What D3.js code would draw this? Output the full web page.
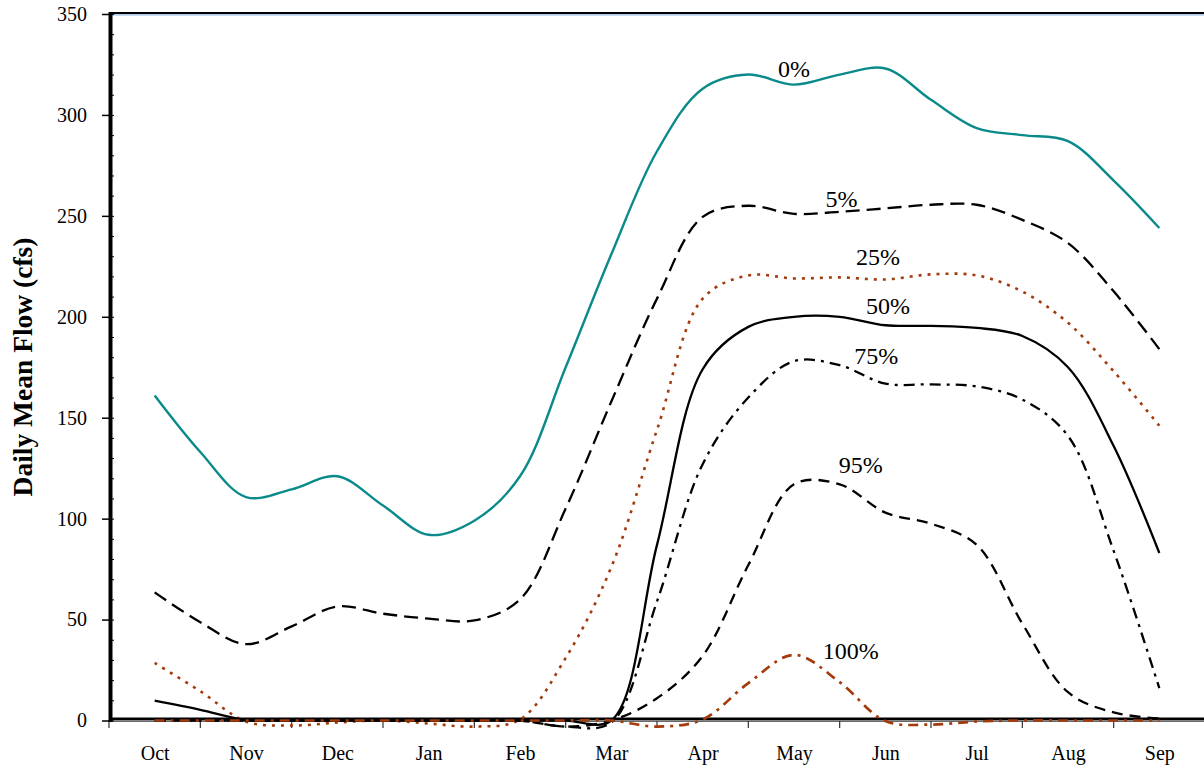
<!DOCTYPE html>
<html>
<head>
<meta charset="utf-8">
<script src="https://cdn.jsdelivr.net/npm/d3@7"></script>
<style>
  html, body { margin: 0; padding: 0; background: #fff; }
  svg { display: block; }
</style>
</head>
<body>
<svg id="chart" width="1204" height="770"></svg>
<script>
// ---- data ----
const months = ["Oct","Nov","Dec","Jan","Feb","Mar","Apr","May","Jun","Jul","Aug","Sep"];
// sample positions, in months from the Oct label (half-month steps)
const monthPos = [0,0.5,1,1.5,2,2.5,3,3.5,4,4.5,5,5.5,6,6.5,7,7.5,8,8.5,9,9.5,10,10.5,11];
const yTicks = [0,50,100,150,200,250,300,350];
const yMinorTicks = [0,10,20,30,40,50,60,70,80,90,100,110,120,130,140,150,160,170,180,190,200,210,220,230,240,250,260,270,280,290,300,310,320,330,340,350];

const flow0   = [161,133,110.7,114.5,121,106.5,92,99,121,175,231,282,313,320,315,320,323,307.5,293.5,290,287,267.5,244];
const flow5   = [63.5,48.7,37.8,46.6,56.5,52.9,50.5,49.6,60,105,158,209,249.5,255,251,252,253.7,255.5,255.5,248,236.5,212.6,184];
const flow25  = [28.5,14.5,-0.5,-2.5,-1,0,-1.5,-3,0.5,31,76,144,209,220.5,219,219.5,218.5,221,220.5,212.5,197,173,146];
const flow50  = [9.8,5.3,0.3,0,0,0,0,0,0,0,0,87,174,195,200,200,195.8,195.5,194.5,190.5,175,136,83];
const flow75  = [0,0,0,0,0,0,0,0,0,-3,-1,59,127,160,178,176,166.9,166.5,165.5,159,141,84,16];
const flow95  = [0,0,0,0,0,0,0,0,0,-3,0,11,32,77,117,117,103,97.5,87,48,14,4,1];
const flow100 = [0,0,0,0,0,0,0,0,0,0,0,-3,0.5,18.5,32.5,19,-0.3,-2,-0.5,0,0,0,0];

const seriesLabels = ["0%","5%","25%","50%","75%","95%","100%"];

// ---- layout ----
const svg = d3.select("#chart");
const plotLeft = 110, plotTop = 14, zeroY = 720.5;

const xBand = d3.scaleBand().domain(months).range([109, 1205]).paddingInner(0).paddingOuter(0);
const x = d3.scaleLinear().domain([-0.5, 11.5]).range([109, 1205]);
const y = d3.scaleLinear().domain([0, 350]).range([zeroY, plotTop]);

// ---- axes ----
// top border
svg.append("line").attr("x1", plotLeft).attr("x2", 1204).attr("y1", 13).attr("y2", 13)
  .attr("stroke", "#000").attr("stroke-width", 2);
svg.append("line").attr("x1", plotLeft + 2).attr("x2", 1204).attr("y1", 14.8).attr("y2", 14.8)
  .attr("stroke", "#92bbe6").attr("stroke-width", 1.3);

// x axis: gray under-line + ticks at band boundaries
svg.append("line").attr("x1", plotLeft).attr("x2", 1204).attr("y1", 721.2).attr("y2", 721.2)
  .attr("stroke", "#6a6a6a").attr("stroke-width", 1.4);
const xTickG = svg.append("g").attr("transform", "translate(0,721)");
xTickG.selectAll("line.tk").data(months).join("line").attr("class", "tk")
  .attr("x1", d => xBand(d)).attr("x2", d => xBand(d))
  .attr("y1", 0).attr("y2", 7).attr("stroke", "#333").attr("stroke-width", 1.2);

const xLabelAxis = d3.axisBottom(x).tickValues(d3.range(months.length))
  .tickFormat(i => months[i]).tickSize(0).tickPadding(26);
const xl = svg.append("g").attr("transform", `translate(0,${zeroY - 0.5})`).call(xLabelAxis);
xl.select(".domain").remove();
xl.selectAll("text").attr("font-family", "'Liberation Serif', 'Times New Roman', serif")
  .attr("font-size", 20).attr("fill", "#000");

// y axis (major ticks outside with labels)
const yAxis = d3.axisLeft(y).tickValues(yTicks).tickSize(8).tickPadding(15).tickFormat(d3.format("d"));
const ya = svg.append("g").attr("transform", `translate(${plotLeft},0)`).call(yAxis);
ya.select(".domain").remove();
ya.selectAll(".tick line").attr("stroke", "#000").attr("stroke-width", 1.5);
ya.selectAll("text").attr("font-family", "'Liberation Serif', 'Times New Roman', serif")
  .attr("font-size", 20).attr("fill", "#000");

// minor ticks inside
const yMinor = d3.axisRight(y).tickValues(yMinorTicks).tickSize(4).tickFormat("");
const ym = svg.append("g").attr("transform", `translate(${plotLeft},0)`).call(yMinor);
ym.select(".domain").remove();
ym.selectAll(".tick line").attr("stroke", "#000").attr("stroke-width", 1);

// y axis thick line
svg.append("line").attr("x1", plotLeft + 0.5).attr("x2", plotLeft + 0.5).attr("y1", 12).attr("y2", 722)
  .attr("stroke", "#000").attr("stroke-width", 4);

// x axis thick black line
svg.append("line").attr("x1", plotLeft).attr("x2", 1204).attr("y1", 718.9).attr("y2", 718.9)
  .attr("stroke", "#000").attr("stroke-width", 2.6);

// y title
svg.append("text")
  .attr("transform", `translate(32,367) rotate(-90)`)
  .attr("text-anchor", "middle")
  .attr("font-family", "'Liberation Serif', 'Times New Roman', serif")
  .attr("font-weight", "bold")
  .attr("font-size", 27.5)
  .text("Daily Mean Flow (cfs)");

// ---- lines ----
const line = d3.line()
  .x((d, i) => x(monthPos[i]))
  .y(d => y(d))
  .curve(d3.curveCatmullRom.alpha(0.5));

const styles = [
  { data: flow0,   color: "#0a8a8a", width: 2.4, dash: null },
  { data: flow5,   color: "#000",    width: 2.3, dash: "14,7" },
  { data: flow25,  color: "#a33b0c", width: 2.6, dash: "3,6" },
  { data: flow50,  color: "#000",    width: 2.3, dash: null },
  { data: flow75,  color: "#000",    width: 2.3, dash: "11,6,3,6" },
  { data: flow95,  color: "#000",    width: 2.3, dash: "11,7" },
  { data: flow100, color: "#a33b0c", width: 2.7, dash: "10,6,3,6" }
];

svg.append("g").selectAll("path").data(styles).join("path")
  .attr("d", s => line(s.data))
  .attr("fill", "none")
  .attr("stroke", s => s.color)
  .attr("stroke-width", s => s.width)
  .attr("stroke-dasharray", s => s.dash)
  .attr("stroke-linejoin", "round");

// ---- series labels ----
const labelPos = [
  { m: 7.0,  v: 318.5 }, // 0%
  { m: 7.52, v: 254 },   // 5%
  { m: 7.92, v: 225 },   // 25%
  { m: 8.03, v: 201 },   // 50%
  { m: 7.9,  v: 176 },   // 75%
  { m: 7.73, v: 122 },   // 95%
  { m: 7.62, v: 30 }     // 100%
];
svg.append("g").selectAll("text").data(seriesLabels).join("text")
  .attr("x", (d, i) => x(labelPos[i].m))
  .attr("y", (d, i) => y(labelPos[i].v) - 1)
  .attr("text-anchor", "middle")
  .attr("font-family", "'Liberation Serif', 'Times New Roman', serif")
  .attr("font-size", 24)
  .attr("fill", "#000")
  .text(d => d);
</script>
</body>
</html>
